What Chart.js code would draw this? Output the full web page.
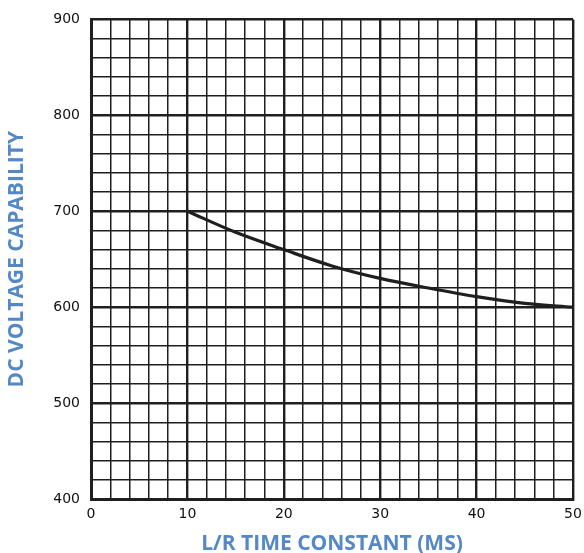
<!DOCTYPE html>
<html>
<head>
<meta charset="utf-8">
<script src="https://cdn.jsdelivr.net/npm/chart.js@4"></script>
<style>
    html, body { margin: 0; padding: 0; background: #fff; }
    #wrap { width: 584px; height: 553px; }
</style>
</head>
<body>
<div id="wrap"><canvas id="voltageChart" width="584" height="553"></canvas></div>
<script>
// --- Data ---
const timeConstant = [10, 15, 20, 25, 30, 35, 40, 45, 50];
const dcVoltage = [700, 678, 660, 643, 630, 620, 611, 604, 600];
const xTicks = [0, 10, 20, 30, 40, 50];
const yTicks = [400, 500, 600, 700, 800, 900];

const ink = '#1f1f1f';
const blue = '#5588c6';

// heavier line every labelled tick, thinner for the minor squares
function gridWidth(ctx, labelled) {
    return labelled.includes(ctx.tick.value) ? 2.4 : 1.5;
}

new Chart(document.getElementById('voltageChart'), {
    type: 'line',
    data: {
        datasets: [{
            data: timeConstant.map((x, i) => ({ x: x, y: dcVoltage[i] })),
            borderColor: ink,
            borderWidth: 3.2,
            pointRadius: 0,
            cubicInterpolationMode: 'monotone',
            fill: false
        }]
    },
    options: {
        responsive: false,
        animation: false,
        layout: { padding: { left: 0, right: 11, top: 18, bottom: 0 } },
        plugins: { legend: { display: false }, tooltip: { enabled: false } },
        scales: {
            x: {
                type: 'linear',
                min: 0,
                max: 50,
                afterFit: (scale) => {
                    scale.height = 54;
                    scale.paddingLeft = 0;
                    scale.paddingRight = 0;
                },
                grid: {
                    color: ink,
                    lineWidth: (ctx) => gridWidth(ctx, xTicks),
                    drawTicks: false
                },
                border: { color: ink, width: 3 },
                ticks: {
                    stepSize: 2,
                    autoSkip: false,
                    maxRotation: 0,
                    padding: 7,
                    color: '#111',
                    font: { family: 'DejaVu Sans', size: 14 },
                    callback: (v) => xTicks.includes(v) ? String(v) : ''
                },
                title: {
                    display: true,
                    text: 'L/R TIME CONSTANT (MS)',
                    color: blue,
                    font: { family: 'Open Sans', size: 21, weight: 'bold' },
                    // nudged down to sit on the bottom edge like the original
                    padding: { top: 0, bottom: -4 }
                }
            },
            y: {
                min: 400,
                max: 900,
                afterFit: (scale) => { scale.width = 91; },
                grid: {
                    color: ink,
                    lineWidth: (ctx) => gridWidth(ctx, yTicks),
                    drawTicks: false
                },
                border: { color: ink, width: 3 },
                ticks: {
                    stepSize: 20,
                    autoSkip: false,
                    padding: 11,
                    color: '#111',
                    font: { family: 'DejaVu Sans', size: 14 },
                    callback: (v) => yTicks.includes(v) ? String(v) : ''
                },
                title: {
                    display: true,
                    text: 'DC VOLTAGE CAPABILITY',
                    color: blue,
                    font: { family: 'Open Sans', size: 21, weight: 'bold' },
                    padding: { top: 4, bottom: 6 }
                }
            }
        }
    }
});
</script>
</body>
</html>
